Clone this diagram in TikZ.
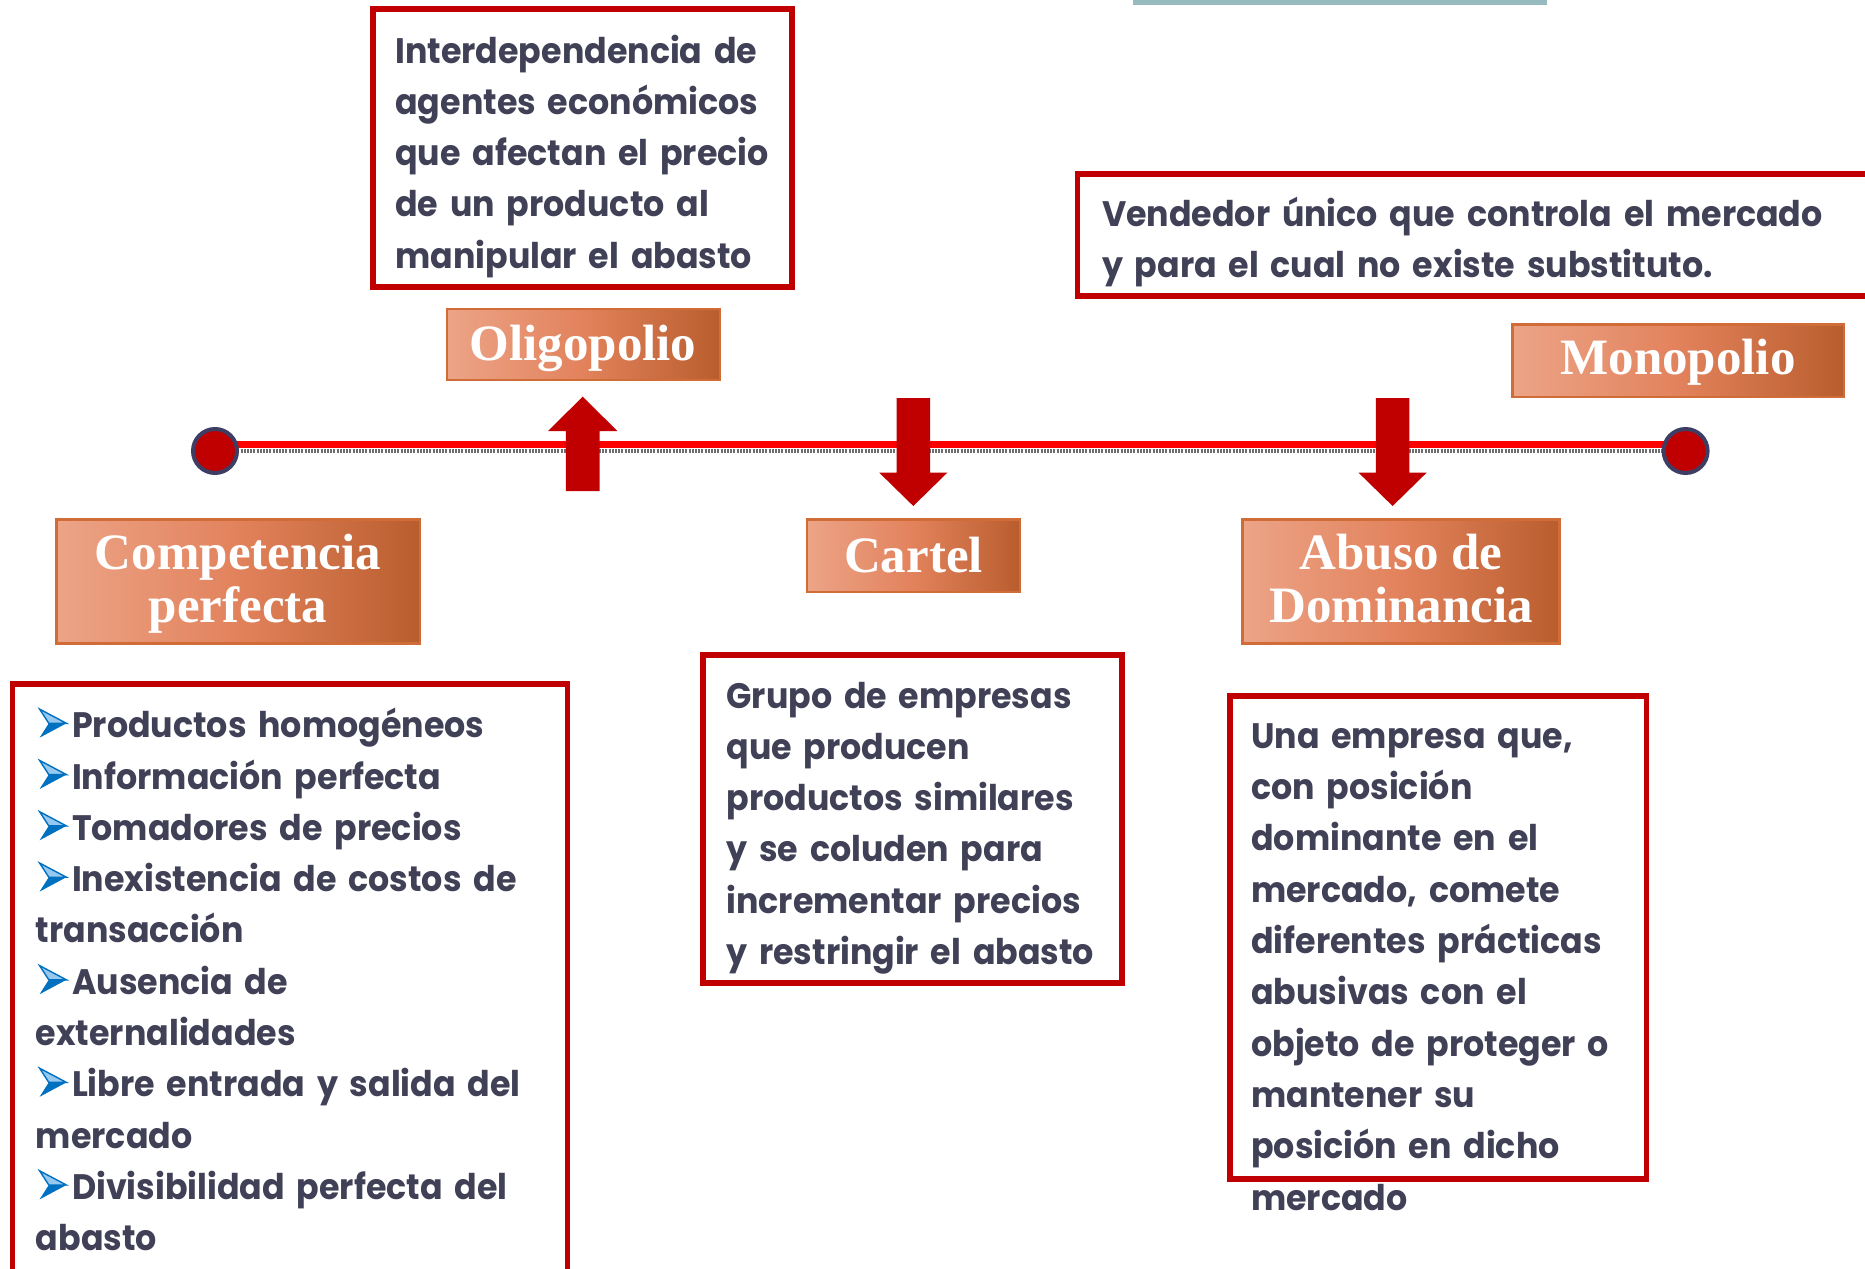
\documentclass[tikz,border=0pt]{standalone}
\usepackage{fontspec}
\newfontfamily\bodyfont[FakeStretch=0.94]{Poppins}
\newfontfamily\titlefont{Liberation Serif}
\usetikzlibrary{fit}
\definecolor{txt}{RGB}{64,64,86}
\definecolor{darkred}{RGB}{192,0,0}
\definecolor{brd}{RGB}{208,108,55}
\definecolor{navy}{RGB}{62,62,100}
\definecolor{tealbar}{RGB}{150,186,190}
\definecolor{bl}{RGB}{0,112,192}
\definecolor{bllight}{RGB}{150,200,240}
\definecolor{gA}{RGB}{236,164,135}
\definecolor{gB}{RGB}{226,130,92}
\definecolor{gC}{RGB}{185,93,45}
\definecolor{dotgray}{RGB}{110,110,110}
\newcommand{\bul}{\hspace*{1.5pt}\tikz[baseline=0pt,x=1pt,y=1pt]{%
  \fill[bllight] (0,14.3) -- (13.4,7.2) -- (4.6,7.2) -- cycle;
  \draw[bl, line width=0.7pt, line join=miter] (0,14.3) -- (13.4,7.2) -- (4.6,7.2) -- cycle;
  \fill[bl] (0,0) -- (13.4,7.2) -- (4.6,7.2) -- cycle;}\hspace*{2.5pt}}
\begin{document}
\begin{tikzpicture}[x=0.5pt,y=-0.5pt,
  redbox/.style={draw=darkred, line width=2.8pt, fill=white, inner sep=0pt},
  titlebox/.style={draw=brd, line width=1.3pt, left color=gA, right color=gC, middle color=gB, inner sep=0pt},
  titletext/.style={anchor=base, inner sep=0pt, text=white, font=\titlefont\bfseries\fontsize{25.5}{26.5}\selectfont},
  bodytext/.style={anchor=base west, inner sep=0pt, text=txt, align=left, text width=#1, font=\bodyfont\bfseries\fontsize{17.7}{25.65}\selectfont},
  blockarrow/.style={fill=darkred, draw=none},
  dot/.style={circle, fill=darkred, draw=navy, line width=2pt, minimum size=22pt, inner sep=0pt}
]
\useasboundingbox (0,0) rectangle (1865,1269);
\fill[white] (0,0) rectangle (1865,1269);

% top teal strip
\fill[tealbar] (1133,0) rectangle (1547,5);

% timeline
\coordinate (p1) at (215,451);
\coordinate (p2) at (1685.6,451);
\draw[red, line width=3.5pt] ([yshift=3.5pt]p1) -- ([yshift=3.5pt]p2);
\draw[dotgray, line width=2pt, dash pattern=on 1pt off 0.6pt] (p1) -- (p2);
\node[dot] (c1) at (p1) {};
\node[dot] (c2) at (p2) {};

% block arrows
\fill[blockarrow] (565.9,491) -- (565.9,431) -- (548,431) -- (582.7,396.7) -- (617.4,431) -- (599.5,431) -- (599.5,491) -- cycle;
\fill[blockarrow] (896.6,398) -- (930,398) -- (930,472.7) -- (947.3,472.7) -- (913.3,506) -- (879.3,472.7) -- (896.6,472.7) -- cycle;
\fill[blockarrow] (1375.9,398) -- (1409.3,398) -- (1409.3,472.7) -- (1426.6,472.7) -- (1392.6,506) -- (1358.6,472.7) -- (1375.9,472.7) -- cycle;

% title boxes
\node[titlebox, fit={(447,309)(720,380)}] (oligo) {};
\node[titletext] (oligoT) at (583,360) {Oligopolio};
\node[titlebox, fit={(56.5,519.6)(420,643.5)}] (comp) {};
\node[titletext, align=center] (compT) at (238,622) {Competencia\\[0pt]perfecta};
\node[titlebox, fit={(807,519.6)(1020,592)}] (cartel) {};
\node[titletext] (cartelT) at (913.5,572) {Cartel};
\node[titlebox, fit={(1242.6,519.6)(1559.7,643.5)}] (abuso) {};
\node[titletext, align=center] (abusoT) at (1401,622) {Abuso de\\[0pt]Dominancia};
\node[titlebox, fit={(1512.7,324.5)(1844,397)}] (mono) {};
\node[titletext] (monoT) at (1678,374.7) {Monopolio};

% description boxes
\node[redbox, fit={(373,9)(792,287)}] (b1) {};
\node[bodytext=400pt] (t1) at (395,63) {Interdependencia de\\agentes económicos\\que afectan el precio\\de un producto al\\manipular el abasto};

\node[redbox, fit={(1077.6,174)(1875,296)}] (b2) {};
\node[bodytext=500pt] (t2) at (1101.6,226.5) {Vendedor único que controla el mercado\\y para el cual no existe substituto.};

\node[redbox, fit={(12.3,684)(567.3,1290)}] (b3) {};
\node[bodytext=300pt] (t3) at (35.5,737.7) {\bul Productos homogéneos\\\bul Información perfecta\\\bul Tomadores de precios\\\bul Inexistencia de costos de\\transacción\\\bul Ausencia de\\externalidades\\\bul Libre entrada y salida del\\mercado\\\bul Divisibilidad perfecta del\\abasto};

\node[redbox, fit={(703,655)(1122,983)}] (b4) {};
\node[bodytext=300pt] (t4) at (726,708) {Grupo de empresas\\que producen\\productos similares\\y se coluden para\\incrementar precios\\y restringir el abasto};

\node[redbox, fit={(1229.7,696)(1646.6,1178.7)}] (b5) {};
\node[bodytext=300pt] (t5) at (1250.8,748.3) {Una empresa que,\\con posición\\dominante en el\\mercado, comete\\diferentes prácticas\\abusivas con el\\objeto de proteger o\\mantener su\\posición en dicho\\mercado};
\end{tikzpicture}
\end{document}
